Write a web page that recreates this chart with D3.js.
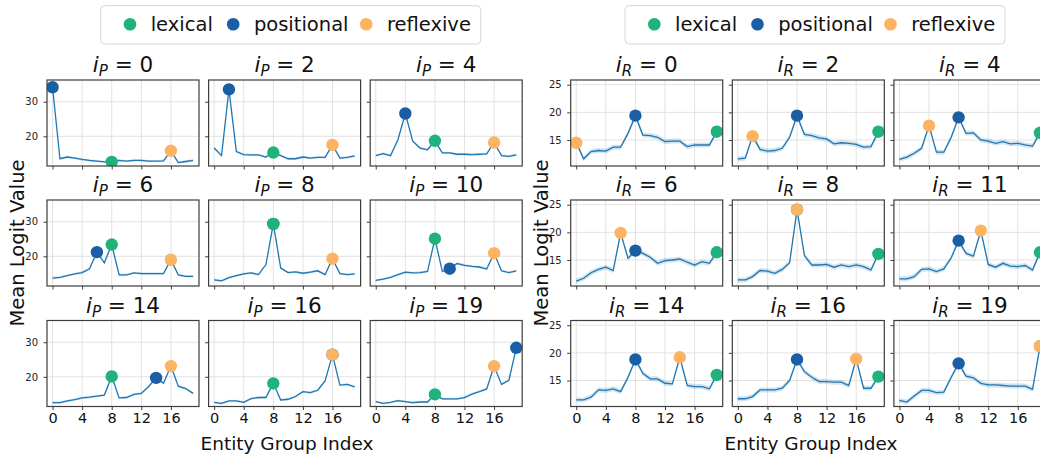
<!DOCTYPE html>
<html>
<head>
<meta charset="utf-8">
<script src="https://cdn.jsdelivr.net/npm/d3@7"></script>
<style>
  html, body { margin: 0; padding: 0; background: #fff; overflow: hidden; }
  svg { display: block; font-family: "DejaVu Sans", sans-serif; }
</style>
</head>
<body>
<svg id="chart" width="1040" height="455"></svg>
<script>
// ---- data -------------------------------------------------------------
const groups = [0, 1, 2, 3, 4, 5, 6, 7, 8, 9, 10, 11, 12, 13, 14, 15, 16, 17, 18, 19];
const xTicks = [0, 4, 8, 12, 16];
const yTicksP = [20, 30];
const yTicksR = [15, 20, 25];

const categories = ["lexical", "positional", "reflexive"];
const categoryColors = ["#1fb27a", "#1a5fa6", "#fdb462"];

// positional-query panels (i_P)
const panelsP = [0, 2, 4, 6, 8, 10, 14, 16, 19];
const logitsP0  = [34.2, 13.5, 14.0, 13.7, 13.3, 13.0, 12.8, 12.6, 12.6, 13.0, 12.8, 13.0, 13.0, 12.8, 12.8, 12.9, 15.8, 12.4, 12.7, 13.0];
const logitsP2  = [16.6, 14.4, 33.6, 15.6, 14.7, 14.6, 14.6, 14.0, 15.3, 14.4, 13.5, 13.5, 14.0, 13.7, 13.9, 13.9, 17.5, 13.7, 13.9, 14.3];
const logitsP4  = [14.4, 15.0, 14.4, 19.0, 26.6, 18.6, 16.6, 16.1, 18.7, 15.2, 15.2, 14.8, 14.8, 14.7, 14.8, 14.9, 18.2, 14.4, 14.2, 14.6];
const logitsP6  = [13.7, 13.9, 14.4, 14.9, 15.3, 16.4, 21.2, 18.1, 23.4, 14.6, 14.6, 15.2, 15.0, 15.0, 15.0, 15.0, 19.0, 14.6, 14.2, 14.2];
const logitsP8  = [13.2, 12.9, 13.8, 14.4, 14.9, 15.2, 14.7, 17.6, 29.4, 16.6, 15.3, 15.5, 15.1, 15.4, 15.8, 14.7, 19.3, 15.0, 14.7, 14.9];
const logitsP10 = [13.0, 13.4, 13.9, 14.7, 15.4, 15.2, 15.3, 15.6, 25.1, 15.6, 16.4, 17.9, 17.4, 17.1, 16.9, 16.3, 20.9, 15.8, 15.3, 15.8];
const logitsP14 = [12.5, 12.5, 13.0, 13.4, 13.9, 14.1, 14.4, 14.7, 20.1, 13.9, 14.0, 14.9, 15.2, 17.2, 19.7, 18.1, 23.1, 17.3, 16.6, 15.2];
const logitsP16 = [12.6, 12.3, 13.0, 13.0, 12.6, 13.7, 14.0, 14.0, 18.1, 13.3, 13.5, 14.3, 15.7, 15.4, 16.1, 18.8, 26.4, 17.6, 17.8, 17.1];
const logitsP19 = [12.8, 12.3, 12.6, 13.1, 12.8, 12.5, 12.7, 12.7, 14.9, 13.6, 13.6, 13.6, 14.0, 15.0, 15.7, 16.5, 23.1, 17.8, 19.0, 28.4];

// reflexive-query panels (i_R)
const panelsR = [0, 2, 4, 6, 8, 11, 14, 16, 19];
const logitsR0  = [14.5, 11.6, 12.9, 13.1, 13.0, 13.7, 13.7, 16.2, 19.4, 15.9, 15.8, 15.5, 14.7, 14.8, 14.8, 13.8, 14.1, 14.1, 14.1, 16.5];
const logitsR2  = [11.6, 11.7, 15.7, 13.3, 13.0, 13.1, 13.5, 15.5, 19.4, 16.0, 15.8, 15.4, 15.2, 14.3, 14.5, 14.4, 14.2, 13.7, 13.8, 16.5];
const logitsR4  = [11.5, 11.9, 12.6, 13.5, 17.6, 12.8, 12.8, 15.5, 19.1, 16.2, 16.3, 15.0, 14.8, 14.4, 14.7, 14.3, 14.4, 14.1, 13.9, 16.3];
const logitsR6  = [11.2, 11.7, 12.7, 13.3, 13.7, 13.1, 19.9, 15.3, 16.7, 16.2, 15.5, 14.4, 14.9, 15.0, 15.2, 14.6, 14.1, 14.7, 14.4, 16.4];
const logitsR8  = [11.4, 11.4, 12.0, 13.1, 13.0, 12.6, 13.3, 14.5, 24.1, 15.8, 14.1, 14.1, 14.2, 13.7, 14.1, 13.8, 14.1, 13.8, 13.2, 16.1];
const logitsR11 = [11.6, 11.6, 12.0, 13.3, 13.4, 12.9, 13.4, 15.4, 18.5, 16.2, 15.7, 20.3, 14.2, 13.7, 14.4, 13.9, 13.8, 14.0, 13.2, 16.4];
const logitsR14 = [11.5, 11.5, 12.0, 13.3, 13.2, 13.5, 13.0, 15.6, 18.8, 16.3, 15.3, 15.3, 14.5, 14.4, 19.2, 14.1, 13.9, 13.9, 13.5, 16.0];
const logitsR16 = [11.7, 11.7, 12.1, 13.3, 13.3, 13.3, 13.6, 15.0, 18.8, 16.6, 15.6, 14.8, 14.8, 14.7, 14.7, 14.1, 18.9, 13.6, 13.6, 15.7];
const logitsR19 = [11.4, 11.1, 12.2, 13.2, 13.2, 12.8, 12.9, 15.6, 18.1, 15.8, 15.5, 14.5, 14.2, 14.2, 14.1, 14.0, 14.0, 14.0, 13.4, 21.2];

// half-width of the confidence band around each mean curve
const bandHalfP = 0.35;
const bandHalfR = 0.45;

// ---- layout ------------------------------------------------------------
const svg = d3.select("#chart");
const panelW = 152, panelH = 86, colStep = 161.6;
const rowTops = [80, 200, 320.5];
const lineColor = "#1f77b4";
const spineColor = "#3d3d3d";
const gridColor = "#e2e2e2";

const figures = [
  {
    left: 47, letter: "P", panels: panelsP,
    series: [logitsP0, logitsP2, logitsP4, logitsP6, logitsP8, logitsP10, logitsP14, logitsP16, logitsP19],
    yDomain: [11.4, 36.3], yTicks: yTicksP, band: bandHalfP,
    // marker positions for each category given the panel index
    markers: i => ({ lexical: 8, positional: i, reflexive: 16 }),
    legendX: 100.7, yLabelX: 17, xLabelX: 287
  },
  {
    left: 570.7, letter: "R", panels: panelsR,
    series: [logitsR0, logitsR2, logitsR4, logitsR6, logitsR8, logitsR11, logitsR14, logitsR16, logitsR19],
    yDomain: [10.3, 25.85], yTicks: yTicksR, band: bandHalfR,
    markers: i => ({ lexical: 19, positional: 8, reflexive: i }),
    legendX: 625, yLabelX: 541, xLabelX: 811
  }
];

const x = d3.scaleLinear().domain([-0.75, 19.8]).range([0, panelW]);

// draw order: positional below lexical below reflexive
const drawOrder = ["positional", "lexical", "reflexive"];
const colorOf = c => categoryColors[categories.indexOf(c)];

figures.forEach((fig, fi) => {
  const y = d3.scaleLinear().domain(fig.yDomain).range([panelH, 0]);

  fig.panels.forEach((pIdx, k) => {
    const row = Math.floor(k / 3), col = k % 3;
    const px = fig.left + col * colStep, py = rowTops[row];
    const values = fig.series[k];
    const g = svg.append("g").attr("transform", `translate(${px},${py})`);
    const clipId = `clip-${fi}-${k}`;
    g.append("clipPath").attr("id", clipId)
      .append("rect").attr("width", panelW).attr("height", panelH);

    // grid
    g.append("g").selectAll("line.v").data(xTicks).join("line")
      .attr("x1", d => x(d)).attr("x2", d => x(d)).attr("y1", 0).attr("y2", panelH)
      .attr("stroke", gridColor).attr("stroke-width", 1);
    g.append("g").selectAll("line.h").data(fig.yTicks).join("line")
      .attr("y1", d => y(d)).attr("y2", d => y(d)).attr("x1", 0).attr("x2", panelW)
      .attr("stroke", gridColor).attr("stroke-width", 1);

    const plot = g.append("g").attr("clip-path", `url(#${clipId})`);
    const pts = groups.map((gx, j) => ({ gx, v: values[j] }));

    plot.append("path").datum(pts)
      .attr("d", d3.area().x(d => x(d.gx)).y0(d => y(d.v - fig.band)).y1(d => y(d.v + fig.band)))
      .attr("fill", lineColor).attr("fill-opacity", 0.2).attr("stroke", "none");
    plot.append("path").datum(pts)
      .attr("d", d3.line().x(d => x(d.gx)).y(d => y(d.v)))
      .attr("fill", "none").attr("stroke", lineColor).attr("stroke-width", 1.3);

    const m = fig.markers(pIdx);
    plot.selectAll("circle").data(drawOrder).join("circle")
      .attr("cx", c => x(m[c])).attr("cy", c => y(values[m[c]]))
      .attr("r", 6.2).attr("fill", c => colorOf(c));

    // spines
    g.append("rect").attr("width", panelW).attr("height", panelH)
      .attr("fill", "none").attr("stroke", spineColor).attr("stroke-width", 1.2);

    // axes
    const yAxis = d3.axisLeft(y).tickValues(fig.yTicks).tickSize(3.5).tickPadding(5.5)
      .tickFormat(col === 0 ? d3.format("d") : () => "");
    const ya = g.append("g").call(yAxis);
    ya.select(".domain").remove();
    ya.selectAll("line").attr("stroke", spineColor).attr("stroke-width", 1);
    ya.selectAll("text").attr("font-size", 10).attr("fill", "#222")
      .attr("font-family", "DejaVu Sans");

    const xAxis = d3.axisBottom(x).tickValues(xTicks).tickSize(3.5).tickPadding(3)
      .tickFormat(row === 2 ? d3.format("d") : () => "");
    const xa = g.append("g").attr("transform", `translate(0,${panelH})`).call(xAxis);
    xa.select(".domain").remove();
    xa.selectAll("line").attr("stroke", spineColor).attr("stroke-width", 1);
    xa.selectAll("text").attr("font-size", 14.5).attr("fill", "#111")
      .attr("font-family", "DejaVu Sans");

    // title  i_P = n
    const t = g.append("text").attr("x", panelW / 2).attr("y", -8)
      .attr("text-anchor", "middle").attr("font-size", 21.5).attr("fill", "#111");
    t.append("tspan").attr("font-style", "italic").text("i");
    t.append("tspan").attr("font-style", "italic").attr("font-size", 15).attr("dy", 4).text(fig.letter);
    t.append("tspan").attr("dy", -4).text(` = ${pIdx}`);
  });

  // legend
  const lg = svg.append("g").attr("transform", `translate(${fig.legendX},5.7)`);
  lg.append("rect").attr("width", 380).attr("height", 38.3).attr("rx", 4)
    .attr("fill", "#fff").attr("stroke", "#d6d6d6").attr("stroke-width", 1);
  const itemX = [29.3, 132.5, 265.5];
  categories.forEach((c, i) => {
    lg.append("circle").attr("cx", itemX[i]).attr("cy", 18.6).attr("r", 6.3).attr("fill", categoryColors[i]);
    lg.append("text").attr("x", itemX[i] + 20.7).attr("y", 18.6).attr("dy", "0.35em")
      .attr("font-size", 19.5).attr("fill", "#111").text(c);
  });

  // axis labels
  svg.append("text").attr("transform", `translate(${fig.yLabelX},243) rotate(-90)`)
    .attr("text-anchor", "middle").attr("dy", "0.35em").attr("font-size", 19.5).attr("fill", "#111")
    .text("Mean Logit Value");
  svg.append("text").attr("x", fig.xLabelX).attr("y", 450)
    .attr("text-anchor", "middle").attr("font-size", 18.5).attr("fill", "#111")
    .text("Entity Group Index");
});
</script>
</body>
</html>
